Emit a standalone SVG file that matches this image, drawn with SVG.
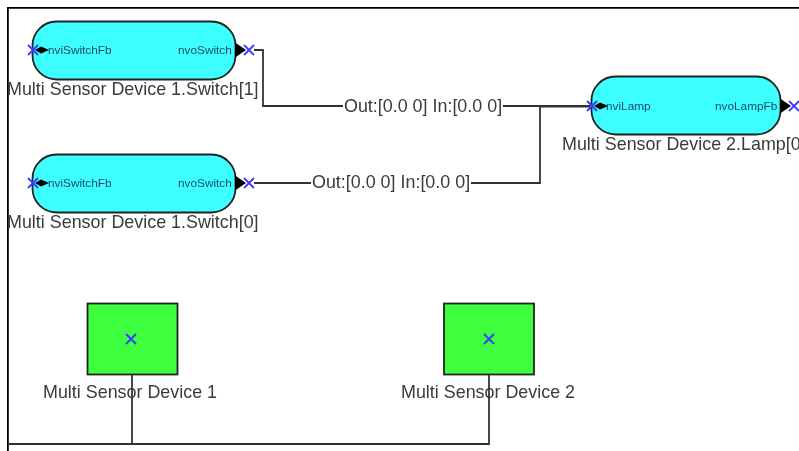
<svg xmlns="http://www.w3.org/2000/svg" width="799" height="451" viewBox="0 0 799 451">
<defs>
<g id="x"><path d="M-5,-5L5,5M-5,5L5,-5" stroke="#3a3aff" stroke-width="1.800" fill="none"/></g>
<path id="inHead" d="M-3,0L3,-3.500L11,0L3,3.500Z" fill="#000"/>
<path id="outHead" d="M0,-7.500L11,0L0,7.500Z" fill="#000"/>
<filter id="soft" x="0" y="0" width="100%" height="100%"><feGaussianBlur stdDeviation="0.4"/></filter>
</defs>
<style>
.fb{fill:#3cffff;stroke:#222;stroke-width:1.800}
.dev{fill:#3cff3c;stroke:#222;stroke-width:1.800}
.con{fill:none;stroke:#333;stroke-width:1.800}
text{font-family:"Liberation Sans",Arial,sans-serif;fill:#3a3a3a}
.l{font-size:17.900px}
.p{font-size:11.800px;fill:#1a4a66}
.bg{fill:#fff}
</style>
<rect width="799" height="451" fill="#fff"/>
<g filter="url(#soft)">
<g id="frame"><path d="M7.500,451V7.500H799" fill="none" stroke="#000" stroke-width="2.600"/></g>
<g id="link-labels-bg">
<rect class="bg" x="343" y="97" width="160" height="18"/>
</g>
<g id="switch1">
<rect class="fb" x="32.500" y="21.500" width="203" height="58" rx="24"/>
<use href="#inHead" x="38" y="50"/><use href="#outHead" x="235" y="50"/>
<use href="#x" x="33" y="50"/><use href="#x" x="249" y="50"/>
<text class="p" x="48" y="54">nviSwitchFb</text>
<text class="p" x="178" y="54">nvoSwitch</text>
<text class="l" x="7" y="95">Multi Sensor Device 1.Switch[1]</text>
</g>
<g id="switch0">
<rect class="fb" x="32.500" y="154.500" width="203" height="58" rx="24"/>
<use href="#inHead" x="38" y="183"/><use href="#outHead" x="235" y="183"/>
<use href="#x" x="33" y="183"/><use href="#x" x="249" y="183"/>
<text class="p" x="48" y="187">nviSwitchFb</text>
<text class="p" x="178" y="187">nvoSwitch</text>
<text class="l" x="7" y="228">Multi Sensor Device 1.Switch[0]</text>
</g>
<g id="lamp">
<rect class="fb" x="591.500" y="76.500" width="189" height="58" rx="24"/>
<use href="#inHead" x="597" y="106"/><use href="#outHead" x="780" y="106"/>
<use href="#x" x="592" y="106"/><use href="#x" x="794" y="106"/>
<text class="p" x="606" y="110">nviLamp</text>
<text class="p" x="715" y="110">nvoLampFb</text>
<text class="l" x="562" y="150">Multi Sensor Device 2.Lamp[0]</text>
</g>
<g id="device1">
<rect class="dev" x="87.500" y="303.500" width="90" height="71"/>
<use href="#x" x="131" y="339"/>
<text class="l" x="43" y="398">Multi Sensor Device 1</text>
</g>
<g id="device2">
<rect class="dev" x="444" y="303.500" width="90" height="71"/>
<use href="#x" x="489" y="339"/>
<text class="l" x="401" y="398">Multi Sensor Device 2</text>
</g>
<g id="connectors">
<path class="con" d="M254,50H263V106H343M503,106H590"/>
<path class="con" d="M254,183H311M471,183H540V106"/>
<path class="con" d="M540,106.500H590" stroke-width="2.400"/>
<path class="con" d="M132,375V444M8,444H489V375"/>
</g>
<g id="link-labels">
<text class="l" x="344" y="112">Out:[0.0 0] In:[0.0 0]</text>
<text class="l" x="312" y="188">Out:[0.0 0] In:[0.0 0]</text>
</g>
</g>
</svg>
